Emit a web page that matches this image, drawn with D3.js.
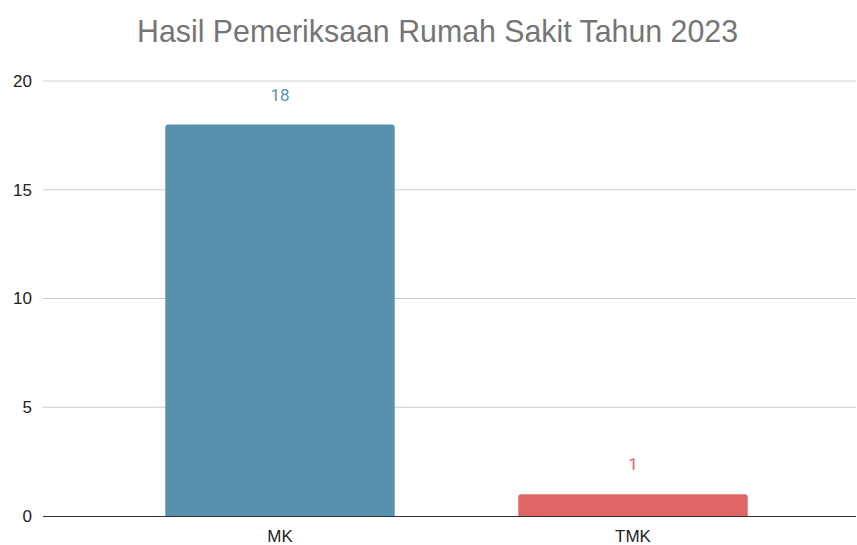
<!DOCTYPE html>
<html><head><meta charset="utf-8">
<script src="https://cdn.jsdelivr.net/npm/d3@7"></script>
<style>body{margin:0;background:#fff}</style>
</head><body>
<svg id="c" width="857" height="545"></svg>
<script>
const title = "Hasil Pemeriksaan Rumah Sakit Tahun 2023";
const categories = ["MK", "TMK"];
const values = [18, 1];
const colors = ["#5891AD", "#E06666"];
const yTicks = [0, 5, 10, 15, 20];

const svg = d3.select("#c");
const x = d3.scaleBand().domain(categories).range([103.5, 809.5]).paddingInner(0.35).paddingOuter(0.175);
const y = d3.scaleLinear().domain([0, 20]).range([516, 81]);
const left = 43, right = 856;

svg.append("text").attr("x", 437.5).attr("y", 42).attr("text-anchor", "middle")
  .attr("font-family", "Liberation Sans, Arial, sans-serif").attr("font-size", 32)
  .attr("textLength", 601).attr("lengthAdjust", "spacingAndGlyphs")
  .attr("fill", "#757575").text(title);

svg.append("g").selectAll("line").data(yTicks.filter(d => d !== 0)).join("line")
  .attr("x1", left).attr("x2", right).attr("y1", d => y(d)).attr("y2", d => y(d))
  .attr("stroke", "#cccccc").attr("stroke-width", 1);

svg.append("g").selectAll("text").data(yTicks).join("text")
  .attr("x", 32).attr("y", d => y(d)).attr("dy", "0.35em").attr("text-anchor", "end")
  .attr("font-family", "Liberation Sans, Arial, sans-serif").attr("font-size", 17).attr("fill", "#222")
  .text(d => d);

const r = 3;
svg.append("g").selectAll("path").data(values).join("path")
  .attr("d", (d, i) => {
    const x0 = x(categories[i]), w = x.bandwidth(), y0 = y(d), y1 = y(0);
    return `M${x0},${y1}V${y0 + r}Q${x0},${y0} ${x0 + r},${y0}H${x0 + w - r}Q${x0 + w},${y0} ${x0 + w},${y0 + r}V${y1}Z`;
  })
  .attr("fill", (d, i) => colors[i]);

svg.append("line").attr("x1", left).attr("x2", right).attr("y1", y(0) + 0.5).attr("y2", y(0) + 0.5)
  .attr("stroke", "#333").attr("stroke-width", 1);

svg.append("g").selectAll("text").data(values).join("text")
  .attr("x", (d, i) => x(categories[i]) + x.bandwidth() / 2).attr("y", d => y(d) - 24)
  .attr("text-anchor", "middle").attr("font-family", "Roboto, sans-serif").attr("font-size", 17)
  .attr("fill", (d, i) => colors[i]).text(d => d);

svg.append("g").selectAll("text").data(categories).join("text")
  .attr("x", d => x(d) + x.bandwidth() / 2).attr("y", 542).attr("text-anchor", "middle")
  .attr("font-family", "Liberation Sans, Arial, sans-serif").attr("font-size", 17).attr("fill", "#222")
  .text(d => d);
</script>
</body></html>
